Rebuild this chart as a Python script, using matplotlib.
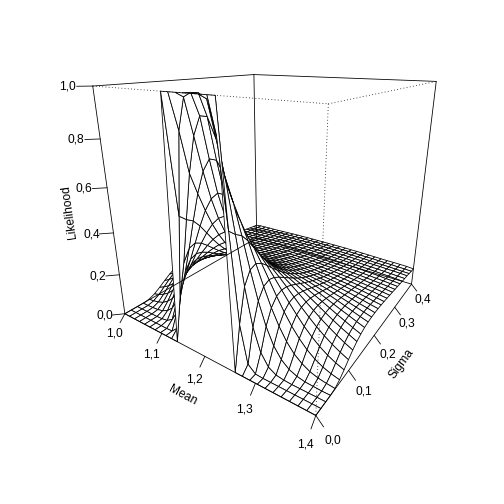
import numpy as np
import matplotlib
matplotlib.use('Agg')
import matplotlib.pyplot as plt
from matplotlib.collections import PolyCollection

plt.rcParams['font.family'] = ['Liberation Sans']

mean = np.linspace(1.0, 1.4, 30)
sigma = np.linspace(0.0, 0.4, 30)

# Likelihood in thousandths: one row per sigma, columns going outward from mean 1.20
likelihood_rows = [
    [1000,1000,1000,1000,0,0,0,0,0,0,0,0,0,0,0],
    [999,983,870,550,191,30,2,0,0,0,0,0,0,0,0],
    [921,851,712,525,331,174,75,26,7,2,0,0,0,0,0],
    [767,717,626,508,382,265,169,98,52,25,11,4,2,0,0],
    [631,602,548,475,392,308,230,164,110,70,43,24,13,7,3],
    [529,512,479,433,378,320,261,206,157,116,82,56,37,24,15],
    [453,442,421,391,354,313,270,227,187,149,117,89,66,48,34],
    [395,387,373,353,327,298,267,234,201,170,141,115,92,72,55],
    [349,344,334,320,302,280,257,232,206,181,156,133,112,92,75],
    [312,309,302,291,278,262,244,225,205,185,164,144,125,108,91],
    [283,280,275,267,257,245,231,216,200,184,167,150,134,118,103],
    [258,256,252,246,238,228,218,206,194,180,166,152,139,125,112],
    [237,236,232,228,222,214,206,196,186,175,164,152,140,128,117],
    [219,218,216,212,207,201,194,187,178,169,160,150,140,130,120],
    [204,203,201,198,194,189,184,178,171,163,155,147,138,130,121],
    [191,190,188,186,183,179,174,169,163,157,150,143,136,128,121],
    [179,178,177,175,172,169,165,161,156,151,145,139,133,126,120],
    [169,168,167,165,163,160,157,153,149,145,140,135,129,124,118],
    [160,159,158,157,155,152,150,147,143,139,135,130,126,121,116],
    [151,151,150,149,147,145,143,140,137,134,130,126,122,118,113],
    [144,143,143,142,140,139,137,134,132,129,126,122,119,115,111],
    [137,137,136,135,134,132,131,129,126,124,121,118,115,112,108],
    [131,131,130,129,128,127,125,124,122,119,117,114,112,109,106],
    [125,125,125,124,123,122,120,119,117,115,113,111,108,106,103],
    [120,120,119,119,118,117,116,114,113,111,109,107,105,103,100],
    [115,115,115,114,113,113,111,110,109,107,106,104,102,100,98],
    [111,111,110,110,110,109,108,107,106,105,104,102,101,99,97],
    [107,107,106,106,105,105,104,103,102,100,99,98,96,94,93],
    [103,103,103,102,102,101,100,99,99,97,96,95,93,92,90],
    [99,99,99,99,98,98,97,96,95,94,93,93,92,91,88],
]

mean_ticks = [1.0, 1.1, 1.2, 1.3, 1.4]
mean_labels = ['1,0', '1,1', '1,2', '1,3', '1,4']
sigma_ticks = [0.0, 0.1, 0.2, 0.3, 0.4]
sigma_labels = ['0,0', '0,1', '0,2', '0,3', '0,4']
z_ticks = [0.0, 0.2, 0.4, 0.6, 0.8, 1.0]
z_labels = ['0,0', '0,2', '0,4', '0,6', '0,8', '1,0']

# Camera, same idea as persp() in R
theta, phi = np.radians(34.5), np.radians(19.5)
r, d = np.sqrt(3), 1.0
sx, sy, bx, by = 417.58, 421.19, 276.76, 200.39


def project(m, s, z):
    x = (np.asarray(m, float) - 1.2) / 0.2
    y = (np.asarray(s, float) - 0.2) / 0.2
    z = (np.asarray(z, float) - 0.5) / 0.5
    u = x * np.cos(theta) + y * np.sin(theta)
    depth = x * np.sin(theta) - y * np.cos(theta)
    v = z * np.cos(phi) - depth * np.sin(phi)
    depth = z * np.sin(phi) + depth * np.cos(phi)
    w = 1 + (r + d - depth) / d
    return sx * u / w + bx, by - sy * v / w, depth


def line(a, b, **kw):
    xa, ya, _ = project(*a)
    xb, yb, _ = project(*b)
    ax.plot([xa, xb], [ya, yb], color='black', lw=0.8, **kw)


def label(p, txt, rot=0):
    xp, yp, _ = project(*p)
    ax.text(xp, yp, txt, ha='center', va='center', rotation=rot,
            rotation_mode='anchor', fontsize=12, color='black')


fig = plt.figure(figsize=(7, 7), dpi=72)
ax = fig.add_axes([0, 0, 1, 1])
ax.set_xlim(0, 504)
ax.set_ylim(504, 0)
ax.axis('off')

m0, m1, s0, s1 = mean[0], mean[-1], sigma[0], sigma[-1]

# Box edges behind the surface, and the two outer axes
back_edges = [((m0, s0, 0), (m0, s1, 0)), ((m0, s1, 0), (m1, s1, 0)),
              ((m0, s1, 0), (m0, s1, 1)), ((m0, s0, 1), (m0, s1, 1)),
              ((m0, s1, 1), (m1, s1, 1)), ((m1, s1, 0), (m1, s1, 1)),
              ((m0, s0, 0), (m0, s0, 1)), ((m0, s0, 0), (m1, s0, 0)),
              ((m1, s0, 0), (m1, s1, 0))]
for a, b in back_edges:
    line(a, b, solid_capstyle='round')

# Surface, painted from the far cells to the near ones
table = np.array(likelihood_rows) / 1000
offset = np.abs(2 * np.arange(len(mean)) - 29) // 2
Z = table[:, offset].T
M, S = np.meshgrid(mean, sigma, indexing='ij')
x, y, depth = project(M, S, Z)
polys, order = [], []
for i in range(len(mean) - 1):
    for j in range(len(sigma) - 1):
        polys.append([(x[i, j], y[i, j]), (x[i + 1, j], y[i + 1, j]),
                      (x[i + 1, j + 1], y[i + 1, j + 1]), (x[i, j + 1], y[i, j + 1])])
        order.append(depth[i:i + 2, j:j + 2].mean())
polys = [polys[k] for k in np.argsort(order)]
ax.add_collection(PolyCollection(polys, facecolor='white', edgecolor='black', lw=0.8))

# Front edges are dotted and lie over the surface
for a, b in [((m0, s0, 1), (m1, s0, 1)), ((m1, s0, 1), (m1, s1, 1)), ((m1, s0, 1), (m1, s0, 0))]:
    line(a, b, ls=(0, (1, 3)))

for m, t in zip(mean_ticks, mean_labels):
    line((m, s0, 0), (m, -0.012, -0.03))
    label((m, -0.026, -0.065), t)
for s, t in zip(sigma_ticks, sigma_labels):
    line((m1, s, 0), (1.412, s, -0.03))
    label((1.426, s, -0.065), t)
for v, t in zip(z_ticks, z_labels):
    line((m0, s0, v), (0.984, -0.016, v))
    label((0.975, -0.025, v), t)

label((1.2, -0.05, -0.095), 'Mean', -28)
label((1.45, 0.2, -0.085), 'Sigma', 54)
label((0.948, -0.042, 0.5), 'Likelihood', 98)

fig.savefig('out.png')
